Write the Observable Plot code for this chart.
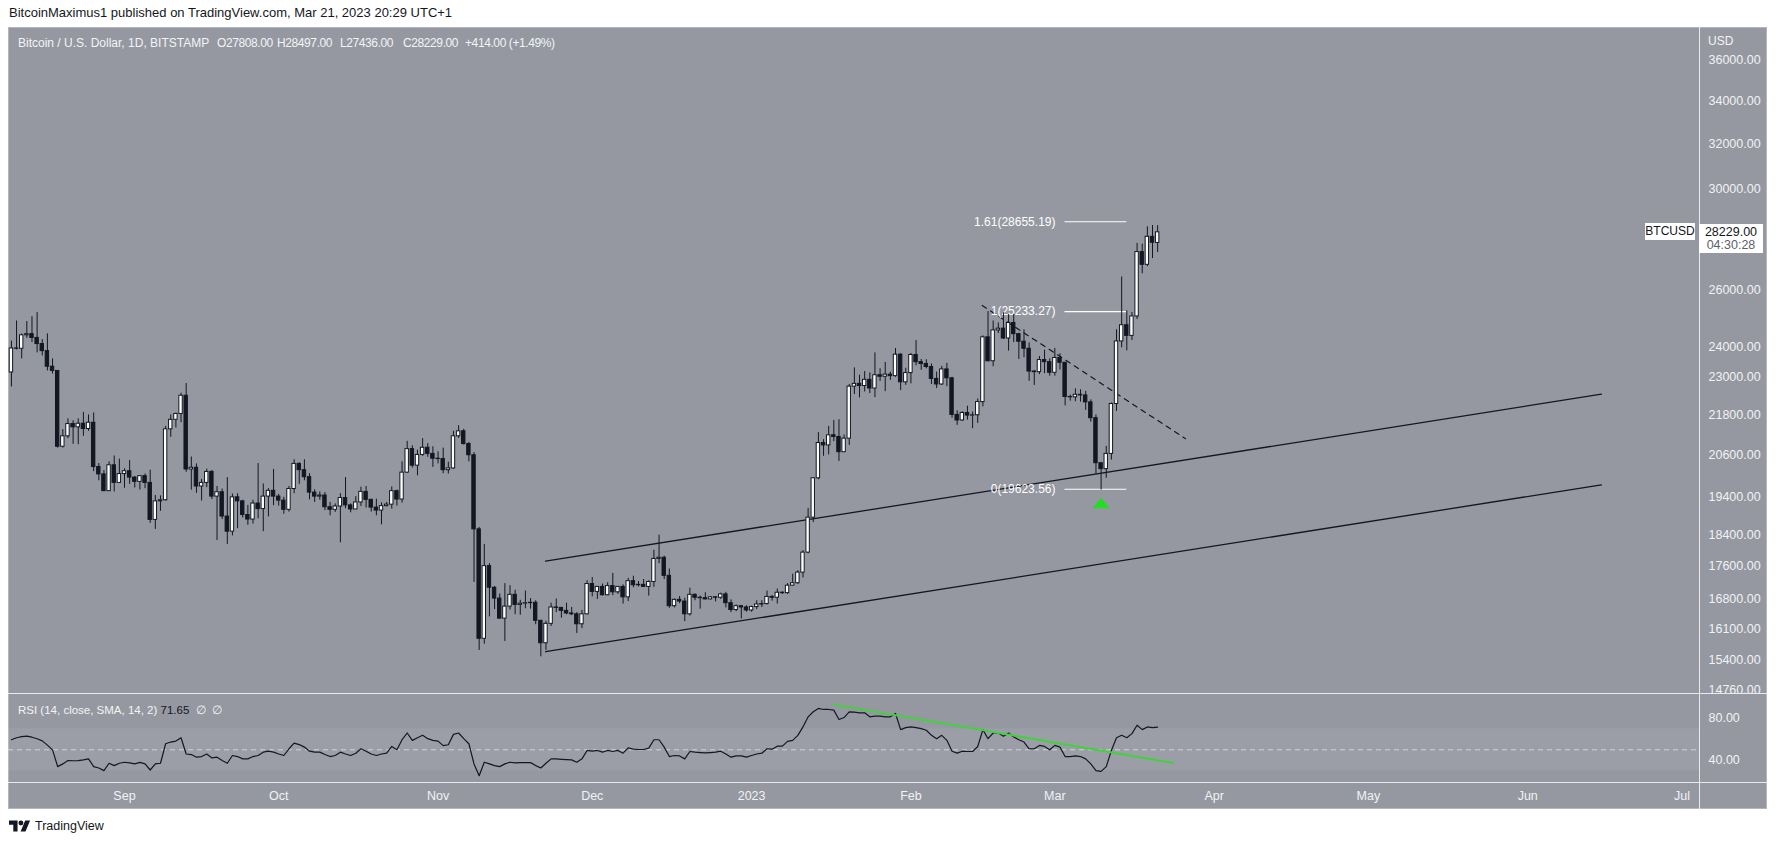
<!DOCTYPE html>
<html><head><meta charset="utf-8">
<script src="https://cdn.jsdelivr.net/npm/d3@7"></script>
<script src="https://cdn.jsdelivr.net/npm/@observablehq/plot@0.6"></script>
<style>
body{margin:0;background:#fff;}
#wrap{position:relative;width:1777px;height:845px;overflow:hidden;font-family:"Liberation Sans",Arial,sans-serif;background:#fff;}
.abs{position:absolute;white-space:nowrap;}
.sep{position:absolute;background:#e9eaee;}
.ohlc{position:absolute;top:36px;font-size:12px;letter-spacing:-0.4px;color:#f3f4f6;white-space:nowrap;}
</style></head><body><div id="wrap">
<div class="abs" style="left:9px;top:5px;font-size:13px;color:#131722;">BitcoinMaximus1 published on TradingView.com, Mar 21, 2023 20:29 UTC+1</div>
<div class="abs" id="panel" style="left:8px;top:27px;width:1759px;height:782px;background:#9598a1;box-shadow:inset 0 0 0 1px #b4b6bd;"></div>
<div class="abs" id="price" style="left:8px;top:27px;"></div>
<div class="abs" id="rsi" style="left:8px;top:693px;"></div>
<div class="sep" style="left:8px;top:693px;width:1759px;height:1px;"></div>
<div class="sep" style="left:8px;top:782px;width:1759px;height:1px;"></div>
<div class="sep" style="left:1699px;top:27px;width:1px;height:782px;"></div>
<div class="ohlc" style="left:18px;letter-spacing:0;">Bitcoin / U.S. Dollar, 1D, BITSTAMP</div>
<div class="ohlc" style="left:217px;">O27808.00</div>
<div class="ohlc" style="left:277px;">H28497.00</div>
<div class="ohlc" style="left:340px;">L27436.00</div>
<div class="ohlc" style="left:403px;">C28229.00</div>
<div class="ohlc" style="left:465px;">+414.00 (+1.49%)</div>
<div class="abs" style="left:1708px;top:34px;font-size:12px;color:#f3f4f6;">USD</div>
<div class="abs" style="left:18px;top:703px;font-size:11.5px;color:#f3f4f6;">RSI (14, close, SMA, 14, 2)&nbsp;<span style="color:#131722">71.65</span>&nbsp;&nbsp;∅&nbsp;&nbsp;∅</div>
<div class="abs" id="tag" style="left:1645px;width:50px;height:17px;background:#fff;color:#131722;font-size:12px;line-height:17px;text-align:center;">BTCUSD</div>
<div class="abs" id="pbox" style="left:1699px;width:64px;height:29px;background:#fff;color:#131722;font-size:12.5px;line-height:13px;text-align:center;padding-top:2px;box-sizing:border-box;">28229.00<br><span style="color:#5d606b">04:30:28</span></div>
<div class="abs" style="left:9px;top:819px;display:flex;align-items:center;gap:4px;">
<svg width="22" height="14" viewBox="0 0 36 22"><path d="M14 20H7V9H0V2h14v18z" fill="#131722"/><circle cx="19.5" cy="6" r="4" fill="#131722"/><path d="M27 20h-8l7.5-18h8z" fill="#131722"/></svg>
<span style="font-size:12.5px;color:#131722;">TradingView</span></div>
</div>
<script>
const FONT = '"Liberation Sans", Arial, sans-serif';
const dates = [
"2022-08-10","2022-08-11","2022-08-12","2022-08-13","2022-08-14","2022-08-15","2022-08-16","2022-08-17","2022-08-18","2022-08-19","2022-08-20","2022-08-21","2022-08-22","2022-08-23","2022-08-24","2022-08-25","2022-08-26","2022-08-27","2022-08-28","2022-08-29","2022-08-30","2022-08-31",
"2022-09-01","2022-09-02","2022-09-03","2022-09-04","2022-09-05","2022-09-06","2022-09-07","2022-09-08","2022-09-09","2022-09-10","2022-09-11","2022-09-12","2022-09-13","2022-09-14","2022-09-15","2022-09-16","2022-09-17","2022-09-18","2022-09-19","2022-09-20","2022-09-21","2022-09-22","2022-09-23","2022-09-24","2022-09-25","2022-09-26","2022-09-27","2022-09-28","2022-09-29","2022-09-30",
"2022-10-01","2022-10-02","2022-10-03","2022-10-04","2022-10-05","2022-10-06","2022-10-07","2022-10-08","2022-10-09","2022-10-10","2022-10-11","2022-10-12","2022-10-13","2022-10-14","2022-10-15","2022-10-16","2022-10-17","2022-10-18","2022-10-19","2022-10-20","2022-10-21","2022-10-22","2022-10-23","2022-10-24","2022-10-25","2022-10-26","2022-10-27","2022-10-28","2022-10-29","2022-10-30","2022-10-31",
"2022-11-01","2022-11-02","2022-11-03","2022-11-04","2022-11-05","2022-11-06","2022-11-07","2022-11-08","2022-11-09","2022-11-10","2022-11-11","2022-11-12","2022-11-13","2022-11-14","2022-11-15","2022-11-16","2022-11-17","2022-11-18","2022-11-19","2022-11-20","2022-11-21","2022-11-22","2022-11-23","2022-11-24","2022-11-25","2022-11-26","2022-11-27","2022-11-28","2022-11-29","2022-11-30",
"2022-12-01","2022-12-02","2022-12-03","2022-12-04","2022-12-05","2022-12-06","2022-12-07","2022-12-08","2022-12-09","2022-12-10","2022-12-11","2022-12-12","2022-12-13","2022-12-14","2022-12-15","2022-12-16","2022-12-17","2022-12-18","2022-12-19","2022-12-20","2022-12-21","2022-12-22","2022-12-23","2022-12-24","2022-12-25","2022-12-26","2022-12-27","2022-12-28","2022-12-29","2022-12-30","2022-12-31",
"2023-01-01","2023-01-02","2023-01-03","2023-01-04","2023-01-05","2023-01-06","2023-01-07","2023-01-08","2023-01-09","2023-01-10","2023-01-11","2023-01-12","2023-01-13","2023-01-14","2023-01-15","2023-01-16","2023-01-17","2023-01-18","2023-01-19","2023-01-20","2023-01-21","2023-01-22","2023-01-23","2023-01-24","2023-01-25","2023-01-26","2023-01-27","2023-01-28","2023-01-29","2023-01-30","2023-01-31",
"2023-02-01","2023-02-02","2023-02-03","2023-02-04","2023-02-05","2023-02-06","2023-02-07","2023-02-08","2023-02-09","2023-02-10","2023-02-11","2023-02-12","2023-02-13","2023-02-14","2023-02-15","2023-02-16","2023-02-17","2023-02-18","2023-02-19","2023-02-20","2023-02-21","2023-02-22","2023-02-23","2023-02-24","2023-02-25","2023-02-26","2023-02-27","2023-02-28",
"2023-03-01","2023-03-02","2023-03-03","2023-03-04","2023-03-05","2023-03-06","2023-03-07","2023-03-08","2023-03-09","2023-03-10","2023-03-11","2023-03-12","2023-03-13","2023-03-14","2023-03-15","2023-03-16","2023-03-17","2023-03-18","2023-03-19","2023-03-20","2023-03-21"];

const opens = [
23150,23950,23940,24400,24440,24310,24100,23860,23340,23200,20840,21150,21520,21420,21530,21370,21560,20250,20040,19570,20300,19800,
20050,20130,19950,19830,19990,19800,18790,19290,19320,21360,21650,21830,22400,20180,20230,19700,19800,20110,19420,19540,18880,18480,19400,19290,18920,18800,19230,19080,19420,19580,
19420,19310,19060,19630,20340,20160,19960,19530,19420,19450,19130,19060,19150,19380,19180,19070,19260,19550,19330,19120,19040,19160,19200,19570,19340,20090,20770,20290,20600,20810,20630,
20490,20480,20160,20210,21150,21300,20920,20590,18540,15880,17600,17070,16810,16340,16620,16900,16660,16690,16700,16710,16290,15780,16220,16600,16590,16520,16460,16440,16210,16440,
17160,16970,17090,16890,17110,16960,17090,16840,17230,17130,17140,17090,17210,17780,17810,17360,16630,16780,16740,16440,16900,16830,16820,16790,16840,16830,16910,16700,16540,16630,16600,
16530,16610,16670,16680,16850,16830,16950,16940,17120,17180,17440,17940,18850,19930,20950,20880,21180,21130,20680,21080,22690,22780,22710,22910,22630,23060,23010,23080,23030,23740,22830,
23130,23730,23490,23430,23330,22940,22760,23250,22960,21800,21630,21860,21780,21790,22200,24330,23520,24570,24630,24290,24830,24440,24180,23940,23180,23160,23560,23490,
23140,23630,23470,22360,22350,22430,22410,22190,21700,20360,20190,20630,22140,24190,24750,24380,25060,27450,26960,28050,27808];

const highs = [
24200,24900,24450,24880,25050,25200,24250,24450,23600,23200,21350,21680,21620,21680,21880,21800,21860,20350,20150,20400,20570,20480,
20200,20440,19980,20000,20050,20160,19450,19440,21450,21800,21860,22480,22790,20540,20340,19900,20190,20150,19700,19630,19950,19490,19500,19320,19180,19320,20350,19770,19640,20180,
19480,19400,19700,20460,20370,20460,20060,19610,19550,19530,19260,19220,19500,19950,19220,19420,19680,19700,19350,19350,19250,19260,19690,19600,20400,21000,20870,20740,21080,20930,20840,
20690,20800,20390,21300,21470,21360,20970,20670,18590,18150,17660,17100,16920,17170,17120,17010,16770,16990,16810,16760,16300,16280,16700,16800,16600,16700,16600,16480,16530,17240,
17320,17100,17160,17190,17420,17100,17140,17300,17350,17220,17270,17240,18000,18390,17850,17530,16800,16860,16820,17060,16920,16870,16950,16860,16860,16940,16960,16780,16660,16640,16640,
16630,16760,16760,16990,16880,17040,16970,17170,17400,17490,17990,19100,19950,21260,21050,21450,21630,21650,21190,22760,23300,23060,23180,23140,23800,23270,23480,23160,23950,23780,23290,
23780,24220,23580,23570,23430,23160,23350,23450,22990,21930,21900,22070,21890,22300,24380,25233,24900,24830,25190,25120,25130,24470,24590,24140,23210,23680,23890,23600,
23950,23770,23480,22420,22620,22590,22540,22270,21800,20370,20850,22170,24590,26500,25260,25200,27790,27760,28450,28500,28497];

const lows = [
22680,23900,23600,24300,24150,23800,23700,23200,23100,20800,20800,21080,20910,20900,21150,21300,20120,19860,19560,19560,19550,19800,
19650,19760,19660,19600,19640,18700,18540,19020,19300,21120,21400,21560,20100,19600,19510,19300,19670,19340,18250,18800,18150,18370,18560,18840,18650,18680,18820,18480,18870,19170,
19160,18940,19000,19500,19760,19860,19330,19260,19320,19040,18900,18990,18190,19090,18980,19070,19150,19110,19000,18900,18660,19140,19080,19160,19240,20070,20220,20000,20560,20530,20240,
20340,20060,20050,20190,21090,20890,20400,17200,15620,15760,16380,16550,16330,15820,16540,16430,16420,16570,16560,16200,15480,15620,16160,16480,16350,16430,16410,16000,16110,16430,
16850,16790,16870,16880,16880,16910,16680,16740,17070,17090,17080,16870,17080,17660,17270,16580,16590,16690,16270,16400,16760,16560,16780,16780,16730,16790,16590,16480,16500,16330,16490,
16490,16550,16600,16660,16750,16680,16910,16910,17110,17150,17310,17910,18720,19890,20560,20600,20990,20410,20670,20880,22440,22330,22520,22470,22340,22860,22530,22890,22990,22560,22730,
22780,23370,23220,23270,22760,22630,22730,22690,21700,21480,21600,21640,21380,21540,22050,23500,23340,24460,24260,23860,24150,23580,23640,22860,22730,23080,23110,23030,
23030,23230,22080,22230,22210,22200,21940,21580,20050,19600,19930,20450,21910,23970,23870,24220,24950,26620,26890,27200,27436];

const closes = [
23950,23940,24400,24440,24310,24100,23860,23340,23200,20840,21150,21520,21420,21530,21370,21560,20250,20040,19570,20300,19800,20050,
20130,19950,19830,19990,19800,18790,19290,19320,21360,21650,21830,22400,20180,20230,19700,19800,20110,19420,19540,18880,18480,19400,19290,18920,18800,19230,19080,19420,19580,19420,
19310,19060,19630,20340,20160,19960,19530,19420,19450,19130,19060,19150,19380,19180,19070,19260,19550,19330,19120,19040,19160,19200,19570,19340,20090,20770,20290,20600,20810,20630,20490,
20480,20160,20210,21150,21300,20920,20590,18540,15880,17600,17070,16810,16340,16620,16900,16660,16690,16700,16710,16290,15780,16220,16600,16590,16520,16460,16440,16210,16440,17160,
16970,17090,16890,17110,16960,17090,16840,17230,17130,17140,17090,17210,17780,17810,17360,16630,16780,16740,16440,16900,16830,16820,16790,16840,16830,16910,16700,16540,16630,16600,16530,
16610,16670,16680,16850,16830,16950,16940,17120,17180,17440,17940,18850,19930,20950,20880,21180,21130,20680,21080,22690,22780,22710,22910,22630,23060,23010,23080,23030,23740,22830,23130,
23730,23490,23430,23330,22940,22760,23250,22960,21800,21630,21860,21780,21790,22200,24330,23520,24570,24630,24290,24830,24440,24180,23940,23180,23160,23560,23490,23140,
23630,23470,22360,22350,22430,22410,22190,21700,20360,20190,20630,22140,24190,24750,24380,25060,27450,26960,28050,27815,28229];

const rsiValues = [
59.6,61.5,62.5,63,62,60.5,58.5,54.5,50,34,36.6,39.8,39.6,39.8,40.4,41.4,34,32.7,30.2,37.2,35,37.2,
38.2,37.5,36.6,38,36.6,30.8,36.6,37.2,55.8,57.4,58.3,61.5,46,45.5,43,43.6,46,42.3,43,39.8,37.2,44.6,43.6,41.4,41.4,43.6,44.6,47.8,48.7,47.8,
46,44.6,51,56.4,55,52.6,48.7,47.8,47.8,45.5,43.6,44.6,47.8,46,44.6,46.8,51,48.7,46,44.6,46,46.8,53.2,50,59.6,66,59,61.5,63.8,60.6,59,
58.3,54,54.8,64.7,66,60.6,55.8,36.6,25.4,38.2,36.6,35,34,36.6,38.2,37.5,37.8,37.8,37.8,35,32.7,37.2,41.4,41.4,41,40.7,40.4,38.2,41.4,49.4,
48.7,49.4,47.8,49.4,48.4,49.4,46.8,51.9,50.6,50.3,50.3,51.6,59.6,59.6,52.6,43.6,44.6,44.2,41.4,48.4,47.8,47.4,47.1,47.4,47.8,48.7,46,43,44.2,44.2,43,
44.6,46,46.8,51,50.6,53.5,53.5,58,59,63.8,71.8,81.4,86.2,89.4,88.4,88.4,87.8,78.8,80.7,86.2,85.8,85.2,85.2,81.4,82,82,81.4,81.4,84.6,69.2,71.1,
71.8,71.1,70.2,68.6,63.8,60.6,63.8,59,48.7,46.8,48.7,48.4,48.4,53.2,69.2,60.6,66,66,62.8,66,62.2,59.6,57.4,51,51,54.2,53.2,50,
54.2,52.6,43.6,43.6,44.2,43.6,41.4,36.6,30.2,29.5,34,49.4,61.5,63.8,61.5,65.4,73.4,69.2,71.8,71.1,71.65];

const priceTicks = [14760,15400,16100,16800,17600,18400,19400,20600,21800,23000,24000,26000,30000,32000,34000,36000];
const rsiTicks = [40, 80];
const monthTickDates = ["2022-09-01","2022-10-01","2022-11-01","2022-12-01","2023-01-01","2023-02-01","2023-03-01","2023-04-01","2023-05-01","2023-06-01","2023-07-01"];
const monthTickLabels = ["Sep","Oct","Nov","Dec","2023","Feb","Mar","Apr","May","Jun","Jul"];

const channelUpperDates = ["2022-11-21T22:00Z","2023-06-15T08:00Z"];
const channelUpperPrices = [17727, 22450];
const channelLowerDates = ["2022-11-21T22:00Z","2023-06-15T08:00Z"];
const channelLowerPrices = [15592, 19746];
const resistanceDates = ["2023-02-14T21:00Z","2023-03-26T10:00Z"];
const resistancePrices = [25452, 21078];
const fibLevels = ["1.61","1","0"];
const fibPrices = [28655.19, 25233.27, 19623.56];
const fibRange = ["2023-03-02T21:00Z","2023-03-14T22:00Z"];
const markerDate = "2023-03-10";
const markerPrice = 19236;
const rsiTrendDates = ["2023-01-17T00:00Z","2023-03-24T00:00Z"];
const rsiTrendValues = [93, 37.5];
const rsiBand = [30, 70];
const rsiMid = 50;

const DAY = 864e5;
const xDomain = [new Date("2022-08-09T10:22:00Z"), new Date("2023-07-04T10:05:00Z")];
const candles = dates.map((d, i) => ({date: new Date(d), open: opens[i], high: highs[i], low: lows[i], close: closes[i]}));
const pair = (ds, vs) => ds.map((d, i) => ({date: new Date(d), v: vs[i]}));
const upper = pair(channelUpperDates, channelUpperPrices);
const lower = pair(channelLowerDates, channelLowerPrices);
const resist = pair(resistanceDates, resistancePrices);
const fibs = fibLevels.map((l, i) => ({level: l, price: fibPrices[i], a: new Date(fibRange[0]), b: new Date(fibRange[1])}));
const marker = [{date: new Date(markerDate), v: markerPrice}];
const rsiRows = dates.map((d, i) => ({date: new Date(d), v: rsiValues[i]}));
const rsiTrend = pair(rsiTrendDates, rsiTrendValues);

const DARK = "#131722";
const LIGHT = "#f1f2f5";
const flatTri = {draw(ctx) { ctx.moveTo(0, -5.5); ctx.lineTo(8.5, 5); ctx.lineTo(-8.5, 5); ctx.closePath(); }};

const priceChart = Plot.plot({
  width: 1759, height: 666,
  marginLeft: 0, marginRight: 68, marginTop: 0, marginBottom: 0,
  style: {background: "transparent", color: LIGHT, fontFamily: FONT, fontSize: "12px", overflow: "hidden"},
  x: {type: "utc", domain: xDomain, axis: null},
  y: {type: "log", domain: [14697, 37721], axis: null},
  color: {type: "identity"},
  marks: [
    Plot.axisY({anchor: "right", ticks: priceTicks, tickFormat: d => d.toFixed(2), tickSize: 0, tickPadding: 9, fontSize: 12.5}),
    Plot.line(upper, {x: "date", y: "v", stroke: DARK, strokeWidth: 1.3}),
    Plot.line(lower, {x: "date", y: "v", stroke: DARK, strokeWidth: 1.3}),
    Plot.line(resist, {x: "date", y: "v", stroke: DARK, strokeWidth: 1.2, strokeDasharray: "5,5"}),
    Plot.link(fibs, {x1: "a", x2: "b", y1: "price", y2: "price", stroke: "#ffffff", strokeWidth: 1.2}),
    Plot.text(fibs, {x: "a", y: "price", text: d => `${d.level}(${d.price.toFixed(2)})`, textAnchor: "end", dx: -9, fill: "#ffffff", fontSize: 12}),
    Plot.ruleX(candles, {x: "date", y1: "low", y2: "high", stroke: DARK, strokeWidth: 1}),
    Plot.rect(candles, {
      x1: d => new Date(+d.date - 0.33 * DAY), x2: d => new Date(+d.date + 0.33 * DAY),
      y1: "open", y2: "close",
      fill: d => d.close >= d.open ? "#ffffff" : DARK, stroke: DARK, strokeWidth: 1
    }),
    Plot.dot(marker, {x: "date", y: "v", symbol: flatTri, fill: "#22dd22", stroke: "none", r: 6})
  ]
});
document.getElementById("price").appendChild(priceChart);

const rsiChart = Plot.plot({
  width: 1759, height: 116,
  marginLeft: 0, marginRight: 68, marginTop: 0, marginBottom: 27,
  style: {background: "transparent", color: LIGHT, fontFamily: FONT, fontSize: "12px", overflow: "hidden"},
  x: {type: "utc", domain: xDomain, axis: null},
  y: {domain: [18.9, 103.6], axis: null},
  marks: [
    Plot.rect([{lo: rsiBand[0], hi: rsiBand[1]}], {x1: () => xDomain[0], x2: () => xDomain[1], y1: "lo", y2: "hi", fill: "#ffffff", fillOpacity: 0.06}),
    Plot.ruleY([rsiMid], {stroke: "#e4e6eb", strokeOpacity: 0.75, strokeDasharray: "5,4"}),
    Plot.line(rsiRows, {x: "date", y: "v", stroke: DARK, strokeWidth: 1.2}),
    Plot.line(rsiTrend, {x: "date", y: "v", stroke: "#3fd43a", strokeWidth: 2}),
    Plot.axisY({anchor: "right", ticks: rsiTicks, tickFormat: d => d.toFixed(2), tickSize: 0, tickPadding: 9, fontSize: 12.5}),
    Plot.axisX({anchor: "bottom", ticks: monthTickDates.map(s => new Date(s)),
      tickFormat: d => monthTickLabels[monthTickDates.findIndex(s => +new Date(s) === +d)],
      tickSize: 0, tickPadding: 9, fontSize: 12.5})
  ]
});
document.getElementById("rsi").appendChild(rsiChart);

const yLast = priceChart.scale("y").apply(closes[closes.length - 1]);
document.getElementById("tag").style.top = (27 + yLast - 8.5) + "px";
document.getElementById("pbox").style.top = (27 + yLast - 8) + "px";
</script>
</body></html>
